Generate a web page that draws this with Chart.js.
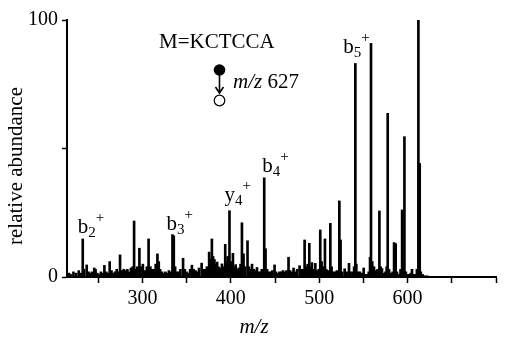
<!DOCTYPE html>
<html>
<head>
<meta charset="utf-8">
<script src="https://cdn.jsdelivr.net/npm/chart.js@4/dist/chart.umd.min.js"></script>
<style>
  html, body { margin: 0; padding: 0; background: #fff; }
  #wrap { width: 525px; height: 337px; }
</style>
</head>
<body>
<div id="wrap"><canvas id="spectrum"></canvas></div>
<script>
// Peak list (m/z, relative abundance in %)
const mz = [
  217, 219, 222, 225, 228, 230, 232.5, 234, 237, 239, 241, 243, 245.5, 247, 249, 251, 253, 255,
  257, 259, 261, 263, 265, 267, 269, 271, 273, 274.7, 277, 279, 281, 283, 285, 287, 289, 290.6,
  292, 294, 296.6, 298, 300.5, 303, 305, 307, 309, 311, 313, 315, 317, 318.5, 320, 322, 324, 326,
  328, 330, 332, 334, 335.5, 337, 339, 341, 343, 346, 348, 350, 352, 354, 356, 358, 360, 362, 364,
  367, 369, 371, 373, 375.5, 377, 378.6, 380, 381.5, 383, 384.5, 386, 388, 390, 392, 393.7, 395,
  396.5, 398.5, 400, 402.4, 404, 405.5, 407, 409, 411, 412.6, 414.4, 416, 418.9, 420.5, 422, 424,
  426, 428, 429.6, 431, 433, 435, 437.8, 439.3, 441, 443, 445, 447, 449.5, 451, 453, 455, 457, 459,
  461, 463, 465.3, 467, 469, 471, 473, 475, 477.8, 480, 482, 483.5, 485.5, 487, 488.8, 490.5, 491.8,
  493.5, 495.6, 497.5, 499.5, 501.2, 502.7, 504.5, 506.5, 508, 510, 512.6, 514, 516, 518, 520,
  522.8, 524.2, 526, 528.8, 531, 533.7, 535.5, 538, 539.5, 540.9, 542, 544, 546, 548, 550.3, 552,
  554, 556, 557.5, 558.6, 560, 562, 564, 566, 568.1, 569.5, 571, 573, 575, 576.3, 577.5, 579, 581,
  583, 584.7, 586.5, 588, 590, 592, 593.8, 595, 596.4, 598, 600, 602, 603.5, 605, 607, 609, 610.5,
  612.2, 613.7, 615, 617, 619, 622
];
const abundance = [
  1.5, 1, 2, 1.5, 2.5, 1.5, 14.8, 3, 4.7, 2, 1.5, 2, 3.5, 3, 1.5, 1, 2, 1.5,
  4.5, 2, 1.5, 6, 2.5, 1.5, 2, 3, 2, 8.6, 2.5, 3, 2.5, 3, 2, 3.5, 4, 21.8,
  3, 4, 11.2, 4, 5, 2.5, 4, 14.8, 4, 3, 3, 5, 9, 6, 3, 2, 1.5, 2,
  1.5, 2.5, 2, 16.5, 16, 4, 2, 2, 3, 7.3, 3, 2, 1.5, 3, 4.6, 3, 2.5, 2, 3.5,
  5.4, 3, 3, 4, 9.7, 7, 14.8, 8, 6.8, 5, 5.8, 4, 3.5, 5.1, 4, 12.7, 6,
  8, 25.8, 6, 9.2, 4, 4.8, 3, 3.5, 5, 21.1, 9, 4, 14.1, 4, 3, 5,
  3, 2.5, 3.7, 2, 2, 3, 38.6, 11, 3, 2, 2, 2.5, 4.7, 2, 1.5, 2, 2, 2.5,
  2, 2.5, 7.7, 2.5, 2, 3.5, 2, 3, 4.4, 3, 3, 14.4, 4, 5, 13.1, 4, 5.6,
  3, 5.3, 2.5, 3, 18.3, 6, 4, 14.8, 3, 2.5, 20.9, 4, 2, 2, 2.5,
  29.6, 14.4, 2, 3.2, 2, 5.3, 2, 2, 4, 83.1, 5, 2, 2, 1.5, 3.5, 1,
  1, 2, 7.7, 90.9, 6, 4, 2.5, 3, 25.7, 4, 3.3, 1.5, 2, 4, 63.7, 3, 1.5,
  2, 13.4, 13, 2, 1, 3, 26.1, 6, 54.6, 2, 1, 1, 1.5, 3, 1, 1, 3,
  100, 44.2, 2, 1, 0.5, 0.5
];

// fragment ion labels: name, subscript, m/z of the labelled peak
const ionNames = ["b", "b", "y", "b", "b"];
const ionSubs = ["2", "3", "4", "4", "5"];
const ionMz = [232.5, 334, 398.5, 437.8, 540.9];

// axis ticks
const xTicks = [250, 300, 350, 400, 450, 500, 550, 600, 650, 700];
const xTickLabels = ["", "300", "", "400", "", "500", "", "600", "", ""];
const yTicks = [0, 50, 100];
const yTickLabels = ["0", "", "100"];

const serif = '"Liberation Serif", "Times New Roman", serif';
// label offsets from the peak top (pixels)
const labelShift = [[-5, -6], [-6, -5], [-5, -10], [-2, -6], [-12, -10]];

const annotate = {
  id: "annotate",
  afterDraw(chart) {
    const ctx = chart.ctx;
    const xs = chart.scales.x, ys = chart.scales.y;
    ctx.save();
    ctx.fillStyle = "#000";
    ctx.strokeStyle = "#000";
    ctx.textAlign = "left";
    ctx.textBaseline = "alphabetic";

    // ion labels with sub- and superscripts
    ionMz.forEach((m, i) => {
      const h = abundance[mz.indexOf(m)];
      const px = xs.getPixelForValue(m) + labelShift[i][0];
      const py = ys.getPixelForValue(h) + labelShift[i][1];
      ctx.font = "21px " + serif;
      ctx.fillText(ionNames[i], px, py);
      const w1 = ctx.measureText(ionNames[i]).width;
      ctx.font = "15px " + serif;
      ctx.fillText(ionSubs[i], px + w1, py + 4);
      const w2 = ctx.measureText(ionSubs[i]).width;
      ctx.fillText("+", px + w1 + w2, py - 11);
    });

    // precursor annotation
    ctx.font = "21px " + serif;
    ctx.fillText("M=KCTCCA", 159, 48);
    ctx.beginPath();
    ctx.arc(219.5, 70, 5.8, 0, Math.PI * 2);
    ctx.fill();
    ctx.lineWidth = 1.6;
    ctx.beginPath();
    ctx.moveTo(219.5, 74);
    ctx.lineTo(219.5, 92);
    ctx.stroke();
    ctx.beginPath();
    ctx.moveTo(215.5, 87);
    ctx.lineTo(219.5, 93);
    ctx.lineTo(223.5, 87);
    ctx.stroke();
    ctx.lineWidth = 1.2;
    ctx.beginPath();
    ctx.arc(219.5, 100.5, 5.3, 0, Math.PI * 2);
    ctx.stroke();
    ctx.font = "italic 21px " + serif;
    ctx.fillText("m/z", 233, 88);
    const wm = ctx.measureText("m/z ").width;
    ctx.font = "21px " + serif;
    ctx.fillText("627", 233 + wm, 88);

    // axis titles
    ctx.font = "italic 21px " + serif;
    ctx.textAlign = "center";
    ctx.fillText("m/z", 254, 333);
    ctx.translate(22, 166);
    ctx.rotate(-Math.PI / 2);
    ctx.font = "21px " + serif;
    ctx.fillText("relative abundance", 0, 0);
    ctx.restore();
  }
};

const ctx = document.getElementById("spectrum");
const chart = new Chart(ctx, {
  type: "bar",
  data: {
    datasets: [{
      data: mz.map((m, i) => ({ x: m, y: abundance[i] })),
      backgroundColor: "#000",
      borderWidth: 0,
      barThickness: 2
    }]
  },
  options: {
    responsive: true,
    maintainAspectRatio: false,
    animation: false,
    layout: { padding: { left: 0, top: 20, right: 29, bottom: 0 } },
    plugins: {
      legend: { display: false },
      tooltip: { enabled: false }
    },
    scales: {
      x: {
        type: "linear",
        offset: false,
        min: 214.7,
        max: 700,
        afterBuildTicks: s => { s.ticks = xTicks.map(v => ({ value: v })); },
        afterFit: s => { s.height = 60; },
        ticks: {
          autoSkip: false,
          maxRotation: 0,
          padding: 4,
          color: "#000",
          font: { family: serif, size: 20 },
          callback: (v) => xTickLabels[xTicks.indexOf(v)]
        },
        grid: { drawOnChartArea: false, drawTicks: true, tickLength: 6, tickWidth: 1.5, tickColor: "#000", offset: false },
        border: { color: "#000", width: 2 }
      },
      y: {
        min: 0,
        max: 100,
        afterBuildTicks: s => { s.ticks = yTicks.map(v => ({ value: v })); },
        afterFit: s => { s.width = 67; },
        ticks: {
          padding: 4,
          color: "#000",
          font: { family: serif, size: 20 },
          callback: (v) => yTickLabels[yTicks.indexOf(v)]
        },
        grid: { drawOnChartArea: false, drawTicks: true, tickLength: 5, tickWidth: 1.5, tickColor: "#000" },
        border: { color: "#000", width: 2 }
      }
    }
  },
  plugins: [annotate]
});
</script>
</body>
</html>
